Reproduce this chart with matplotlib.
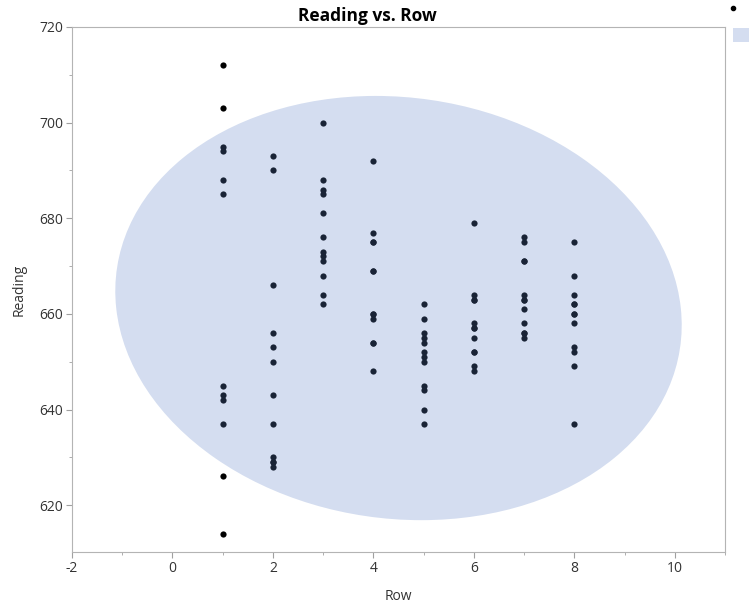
import numpy as np
import matplotlib
matplotlib.use("Agg")
import matplotlib.pyplot as plt
from matplotlib.patches import Ellipse, Rectangle
from matplotlib.lines import Line2D
from matplotlib.ticker import MultipleLocator

plt.rcParams['font.family'] = ['Open Sans', 'DejaVu Sans']
plt.rcParams['axes.unicode_minus'] = False

# readings per row (12 per row, some values repeat and overlap in the plot)
rows = [1, 2, 3, 4, 5, 6, 7, 8]
row1 = [712, 703, 695, 694, 688, 685, 645, 643, 642, 637, 626, 614]
row2 = [693, 690, 666, 656, 653, 650, 643, 637, 630, 629, 629, 628]
row3 = [700, 688, 686, 685, 681, 676, 673, 672, 671, 668, 664, 662]
row4 = [692, 677, 675, 675, 669, 669, 660, 660, 659, 654, 654, 648]
row5 = [662, 659, 656, 655, 654, 652, 651, 650, 645, 644, 640, 637]
row6 = [679, 664, 663, 663, 658, 657, 657, 655, 652, 652, 649, 648]
row7 = [676, 675, 671, 671, 664, 663, 663, 661, 658, 656, 656, 655]
row8 = [675, 668, 664, 662, 662, 660, 660, 658, 653, 652, 649, 637]
readings = [row1, row2, row3, row4, row5, row6, row7, row8]

x = np.concatenate([[r] * len(v) for r, v in zip(rows, readings)]).astype(float)
y = np.concatenate(readings).astype(float)

fig = plt.figure(figsize=(7.49, 6.05), dpi=100)
ax = fig.add_axes([0.0961, 0.0876, 0.8719, 0.8678])

ax.scatter(x, y, s=20, color='black', linewidths=0, zorder=2)

# 95% bivariate normal density ellipse
cov = np.cov(x, y)
vals, vecs = np.linalg.eigh(cov)
k = np.sqrt(5.991)
ang = np.degrees(np.arctan2(vecs[1, 1], vecs[0, 1]))
ell = Ellipse((x.mean(), y.mean()), 2 * k * np.sqrt(vals[1]), 2 * k * np.sqrt(vals[0]),
              angle=ang, facecolor='#6082c8', edgecolor='none', alpha=0.27, zorder=3)
ax.add_patch(ell)

ax.set_xlim(-2, 11)
ax.set_ylim(610.2, 720)
ax.xaxis.set_major_locator(MultipleLocator(2))
ax.xaxis.set_minor_locator(MultipleLocator(1))
ax.yaxis.set_major_locator(MultipleLocator(20))
ax.yaxis.set_minor_locator(MultipleLocator(10))
for s in ax.spines.values():
    s.set_color('#b4b4b4')
ax.tick_params(which='both', colors='#a0a0a0', labelcolor='#333333', labelsize=10)
ax.tick_params(which='major', length=4, pad=2.5)
ax.tick_params(which='minor', length=2)

ax.set_title('Reading vs. Row', fontsize=12.5, fontweight='bold', pad=4, x=0.453)
ax.set_xlabel('Row', fontsize=10, color='#333333', labelpad=9)
ax.set_ylabel('Reading', fontsize=10, color='#333333', labelpad=9)

# legend keys, cut off at the right edge as in the source
fig.add_artist(Line2D([0.9786], [0.987], marker='o', markersize=3, color='black',
                      linestyle='none', transform=fig.transFigure))
fig.add_artist(Rectangle((0.9786, 0.9306), 0.03, 0.0231, facecolor='#d4ddf0',
                         edgecolor='none', transform=fig.transFigure))

fig.savefig('out.png', dpi=100)
